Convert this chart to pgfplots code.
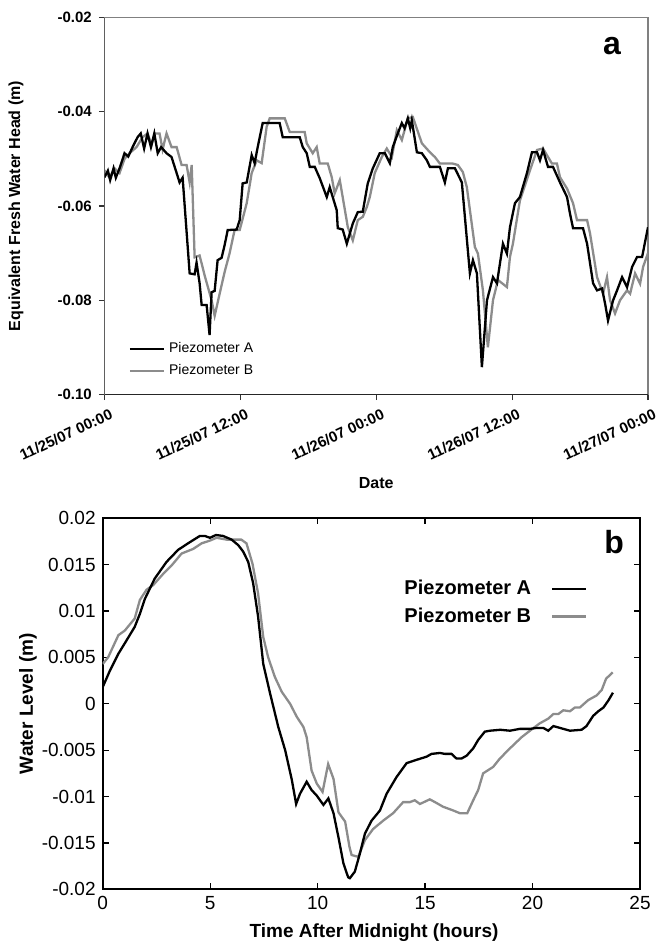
\documentclass[border=0pt]{standalone}
\usepackage{fontspec}
\setmainfont{Liberation Sans}
\usepackage{pgfplots}
\pgfplotsset{compat=1.18}
\usepackage{pgfplotstable}
\definecolor{pgray}{HTML}{8C8C8C}

\pgfplotstableread{
h v
0 -0.0539
0.3 -0.0525
0.5 -0.0545
0.8 -0.052
1.0 -0.054
1.33 -0.052
1.77 -0.0488
2.1 -0.0495
2.48 -0.0475
2.92 -0.0454
3.2 -0.0446
3.5 -0.0478
3.8 -0.0446
4.1 -0.0475
4.4 -0.0446
4.7 -0.0488
5.0 -0.0475
5.48 -0.0488
5.92 -0.0496
6.37 -0.053
6.63 -0.055
6.9 -0.054
7.52 -0.0743
7.96 -0.0745
8.13 -0.072
8.4 -0.0764
8.58 -0.081
9.02 -0.081
9.28 -0.0874
9.46 -0.0783
9.73 -0.078
9.99 -0.0715
10.34 -0.071
10.61 -0.0683
10.88 -0.0651
11.67 -0.065
11.94 -0.063
12.2 -0.0552
12.56 -0.055
13.0 -0.0492
13.26 -0.0509
13.53 -0.0475
13.97 -0.0424
15.47 -0.0424
15.74 -0.0454
17.24 -0.0454
17.51 -0.0475
17.86 -0.0488
18.13 -0.0517
18.57 -0.0517
19.01 -0.0541
19.63 -0.0581
19.89 -0.056
20.51 -0.0609
20.6 -0.0647
21.04 -0.065
21.4 -0.068
21.93 -0.0637
22.37 -0.0613
22.81 -0.0612
23.25 -0.0552
23.7 -0.052
24.31 -0.0488
24.76 -0.0488
25.2 -0.0509
25.46 -0.0475
25.9 -0.0446
26.26 -0.0424
26.5 -0.0435
26.79 -0.0414
27.0 -0.0435
27.14 -0.0418
27.59 -0.0486
28.03 -0.0488
28.47 -0.0503
28.74 -0.0517
29.62 -0.0517
30.06 -0.055
30.33 -0.052
30.95 -0.052
31.56 -0.055
32.27 -0.0743
32.54 -0.0715
32.89 -0.0743
33.33 -0.0942
33.78 -0.080
34.31 -0.0751
34.66 -0.0764
35.19 -0.068
35.54 -0.0701
35.81 -0.0645
36.25 -0.0594
36.69 -0.0581
37.31 -0.053
37.75 -0.0486
38.2 -0.0486
38.46 -0.0503
38.73 -0.0481
39.17 -0.0517
39.61 -0.0517
40.23 -0.055
40.85 -0.0581
41.11 -0.0616
41.38 -0.0647
42.26 -0.0647
42.62 -0.068
43.15 -0.0764
43.5 -0.0779
43.94 -0.0775
44.21 -0.0807
44.47 -0.0843
44.92 -0.080
45.27 -0.0779
45.71 -0.0751
46.15 -0.0772
46.6 -0.0729
47.04 -0.0708
47.48 -0.0708
48.0 -0.0645
}\aA

\pgfplotstableread{
h v
0 -0.0524
0.44 -0.054
0.88 -0.052
1.33 -0.053
1.77 -0.050
2.21 -0.0488
2.83 -0.0475
3.36 -0.0454
3.8 -0.0446
4.16 -0.047
4.42 -0.0446
4.86 -0.0446
5.13 -0.048
5.48 -0.0446
5.92 -0.0475
6.37 -0.0475
6.81 -0.0513
7.25 -0.0513
7.52 -0.055
7.7 -0.0513
7.96 -0.0709
8.4 -0.0705
8.84 -0.0747
9.46 -0.080
9.73 -0.0833
10.17 -0.0786
10.61 -0.074
11.05 -0.070
11.49 -0.0651
11.94 -0.0651
12.56 -0.0594
13.0 -0.053
13.44 -0.0503
13.88 -0.0509
14.32 -0.0432
14.59 -0.0414
15.92 -0.0414
16.36 -0.0443
17.68 -0.0443
17.86 -0.0467
18.39 -0.0488
18.74 -0.0475
19.01 -0.051
19.72 -0.051
20.07 -0.0539
20.33 -0.0573
20.78 -0.0545
21.49 -0.0645
21.93 -0.0673
22.37 -0.063
22.81 -0.0623
23.17 -0.0602
23.43 -0.0581
23.87 -0.053
24.49 -0.0496
24.93 -0.0478
25.38 -0.0496
25.82 -0.0439
26.26 -0.046
26.79 -0.0414
27.23 -0.0411
27.5 -0.043
28.03 -0.0467
28.74 -0.0486
29.18 -0.0496
29.62 -0.051
30.77 -0.051
31.21 -0.0513
31.65 -0.0528
32.0 -0.056
32.71 -0.0687
32.98 -0.0701
33.42 -0.0779
33.86 -0.090
34.31 -0.080
34.75 -0.0757
35.54 -0.0772
35.81 -0.0708
36.07 -0.068
36.69 -0.0588
37.14 -0.0556
37.58 -0.0524
38.2 -0.0481
38.73 -0.0478
39.17 -0.0496
39.52 -0.051
39.96 -0.051
40.23 -0.0539
40.85 -0.0563
41.38 -0.0594
41.73 -0.063
42.62 -0.063
42.88 -0.0658
43.5 -0.0751
44.03 -0.0786
44.38 -0.0751
44.65 -0.080
45.09 -0.0828
45.53 -0.080
46.15 -0.0779
46.42 -0.0786
46.86 -0.0743
47.3 -0.0765
47.57 -0.0729
48.0 -0.070
}\aB

\pgfplotstableread{
h v
0 0.0018
0.34 0.0036
0.73 0.0054
1.1 0.0068
1.49 0.0083
1.73 0.0097
1.96 0.0113
2.42 0.0135
2.97 0.0153
3.51 0.0166
3.97 0.0173
4.52 0.0181
4.75 0.0181
4.99 0.0179
5.27 0.0182
5.6 0.0181
6.0 0.0177
6.31 0.0171
6.54 0.0164
6.77 0.0153
7.0 0.0130
7.23 0.0094
7.47 0.0043
7.79 0.0011
8.17 -0.0025
8.49 -0.0050
8.8 -0.0082
9.0 -0.0108
9.18 -0.0097
9.49 -0.0084
9.72 -0.0093
9.96 -0.0099
10.27 -0.0109
10.5 -0.0102
10.74 -0.0118
10.97 -0.0144
11.2 -0.0172
11.42 -0.0187
11.5 -0.0188
11.73 -0.0181
11.96 -0.0162
12.2 -0.0140
12.51 -0.0126
12.9 -0.0115
13.21 -0.0097
13.67 -0.0079
14.14 -0.0064
14.52 -0.0061
15.07 -0.0057
15.3 -0.0054
15.69 -0.0053
15.92 -0.0054
16.23 -0.0054
16.46 -0.0059
16.69 -0.0059
16.93 -0.0056
17.24 -0.0048
17.47 -0.0039
17.78 -0.0030
18.02 -0.0029
18.5 -0.0028
18.95 -0.0029
19.41 -0.0027
19.88 -0.0027
20.19 -0.0026
20.5 -0.0026
20.73 -0.0029
20.97 -0.0024
21.43 -0.0027
21.74 -0.0029
22.28 -0.0028
22.51 -0.0024
22.82 -0.0013
23.06 -0.0008
23.3 -0.0004
23.54 0.0004
23.74 0.0012
}\bA

\pgfplotstableread{
h v
0 0.0043
0.25 0.0050
0.73 0.0074
1.03 0.0079
1.49 0.0092
1.73 0.0112
2.04 0.0123
2.35 0.0128
2.81 0.0140
3.2 0.0149
3.67 0.0162
4.21 0.0167
4.6 0.0173
4.99 0.0176
5.3 0.0179
5.77 0.0177
6.45 0.0177
6.69 0.0173
6.97 0.0151
7.23 0.0119
7.47 0.0072
7.7 0.0050
8.01 0.0029
8.33 0.0013
8.72 0.0000
9.03 -0.0014
9.34 -0.0025
9.49 -0.0036
9.72 -0.0072
9.96 -0.0086
10.23 -0.0095
10.49 -0.0065
10.74 -0.0081
10.97 -0.0117
11.28 -0.0127
11.48 -0.0154
11.58 -0.0163
11.89 -0.0165
12.2 -0.0147
12.58 -0.0135
13.05 -0.0126
13.51 -0.0118
13.98 -0.0106
14.29 -0.0106
14.52 -0.0104
14.76 -0.0108
15.22 -0.0103
15.46 -0.0106
15.84 -0.0111
16.31 -0.0115
16.62 -0.0118
16.96 -0.0118
17.24 -0.0104
17.47 -0.0093
17.7 -0.0075
18.17 -0.0068
18.48 -0.0059
18.95 -0.0048
19.49 -0.0036
19.88 -0.0029
20.34 -0.0021
20.73 -0.0016
20.97 -0.0011
21.2 -0.0011
21.43 -0.0007
21.74 -0.0008
21.97 -0.0004
22.2 -0.0004
22.59 0.0004
22.98 0.0009
23.22 0.0015
23.42 0.0027
23.73 0.0034
}\bB

\begin{document}
\begin{tikzpicture}
\useasboundingbox (0,0) rectangle (332pt,-473pt);
% ---------------- panel a ----------------
\begin{axis}[
  at={(52.25pt,-197.25pt)}, anchor=south west,
  scale only axis, width=271.75pt, height=188.5pt,
  xmin=0, xmax=48, ymin=-0.10, ymax=-0.02,
  axis line style={draw=black!50, line width=0.6pt},
  tick pos=left, tick align=outside, major tick length=2.8pt,
  every tick/.style={black!80, line width=0.6pt},
  xtick={0,12,24,36,48},
  xticklabels={11/25/07 00:00,11/25/07 12:00,11/26/07 00:00,11/26/07 12:00,11/27/07 00:00},
  x tick label style={rotate=25, anchor=north east, font=\bfseries\fontsize{7.5}{8.5}\selectfont, inner sep=1pt, yshift=-3.5pt, xshift=1.5pt},
  ytick={-0.10,-0.08,-0.06,-0.04,-0.02},
  yticklabels={-0.10,-0.08,-0.06,-0.04,-0.02},
  y tick label style={font=\bfseries\fontsize{7.5}{8.5}\selectfont},
  scaled ticks=false,
  /pgf/number format/assume math mode=true,
  xlabel={Date},
  xlabel style={at={(axis description cs:0.5,-0.235)}, anchor=center, font=\bfseries\fontsize{8}{9}\selectfont},
  ylabel={Equivalent Fresh Water Head (m)},
  ylabel style={at={(axis description cs:-0.163,0.5)}, anchor=center, font=\bfseries\fontsize{8}{9}\selectfont},
  legend style={at={(0.04,0.155)}, anchor=north west, draw=none, fill=none,
    font=\fontsize{7}{8}\selectfont, row sep=0.5pt, inner sep=1pt},
  legend cell align=left, reverse legend,
]
\addplot[pgray, line width=1.15pt] table[x=h,y=v] {\aB};
\addlegendentry{Piezometer B}
\addplot[black, line width=1.15pt] table[x=h,y=v] {\aA};
\addlegendentry{Piezometer A}
\draw[black!85, line width=0.7pt] (rel axis cs:0,1) -- (rel axis cs:0,0) -- (rel axis cs:1,0);
\node[font=\bfseries\fontsize{16}{18}\selectfont] at (rel axis cs:0.934,0.925) {a};
\end{axis}
% ---------------- panel b ----------------
\begin{axis}[
  at={(51.35pt,-444.65pt)}, anchor=south west,
  scale only axis, width=268.65pt, height=185.5pt,
  xmin=0, xmax=25, ymin=-0.02, ymax=0.02,
  axis line style={draw=black, line width=0.9pt},
  tick align=inside, major tick length=3pt,
  every tick/.style={black, line width=0.6pt},
  xtick={0,5,10,15,20,25},
  ytick={-0.02,-0.015,-0.01,-0.005,0,0.005,0.01,0.015,0.02},
  yticklabels={-0.02,-0.015,-0.01,-0.005,0,0.005,0.01,0.015,0.02},
  scaled ticks=false,
  tick label style={font=\fontsize{9.5}{10.5}\selectfont},
  /pgf/number format/assume math mode=true,
  xlabel={Time After Midnight (hours)},
  xlabel style={at={(axis description cs:0.505,-0.118)}, anchor=center, font=\bfseries\fontsize{9.5}{11}\selectfont},
  ylabel={Water Level (m)},
  ylabel style={at={(axis description cs:-0.139,0.5)}, anchor=center, font=\bfseries\fontsize{9.5}{11}\selectfont},
  legend style={at={(0.907,0.85)}, anchor=north east, draw=none, fill=none,
    font=\bfseries\fontsize{10}{11}\selectfont, row sep=1pt, inner sep=1pt,
    /tikz/every odd column/.append style={column sep=8pt}},
  legend plot pos=right, legend cell align=left, reverse legend,
]
\addplot[pgray, line width=1.15pt] table[x=h,y=v] {\bB};
\addlegendentry{Piezometer B}
\addplot[black, line width=1.15pt] table[x=h,y=v] {\bA};
\addlegendentry{Piezometer A}
\node[font=\bfseries\fontsize{16}{18}\selectfont] at (rel axis cs:0.952,0.935) {b};
\end{axis}
\end{tikzpicture}
\end{document}
